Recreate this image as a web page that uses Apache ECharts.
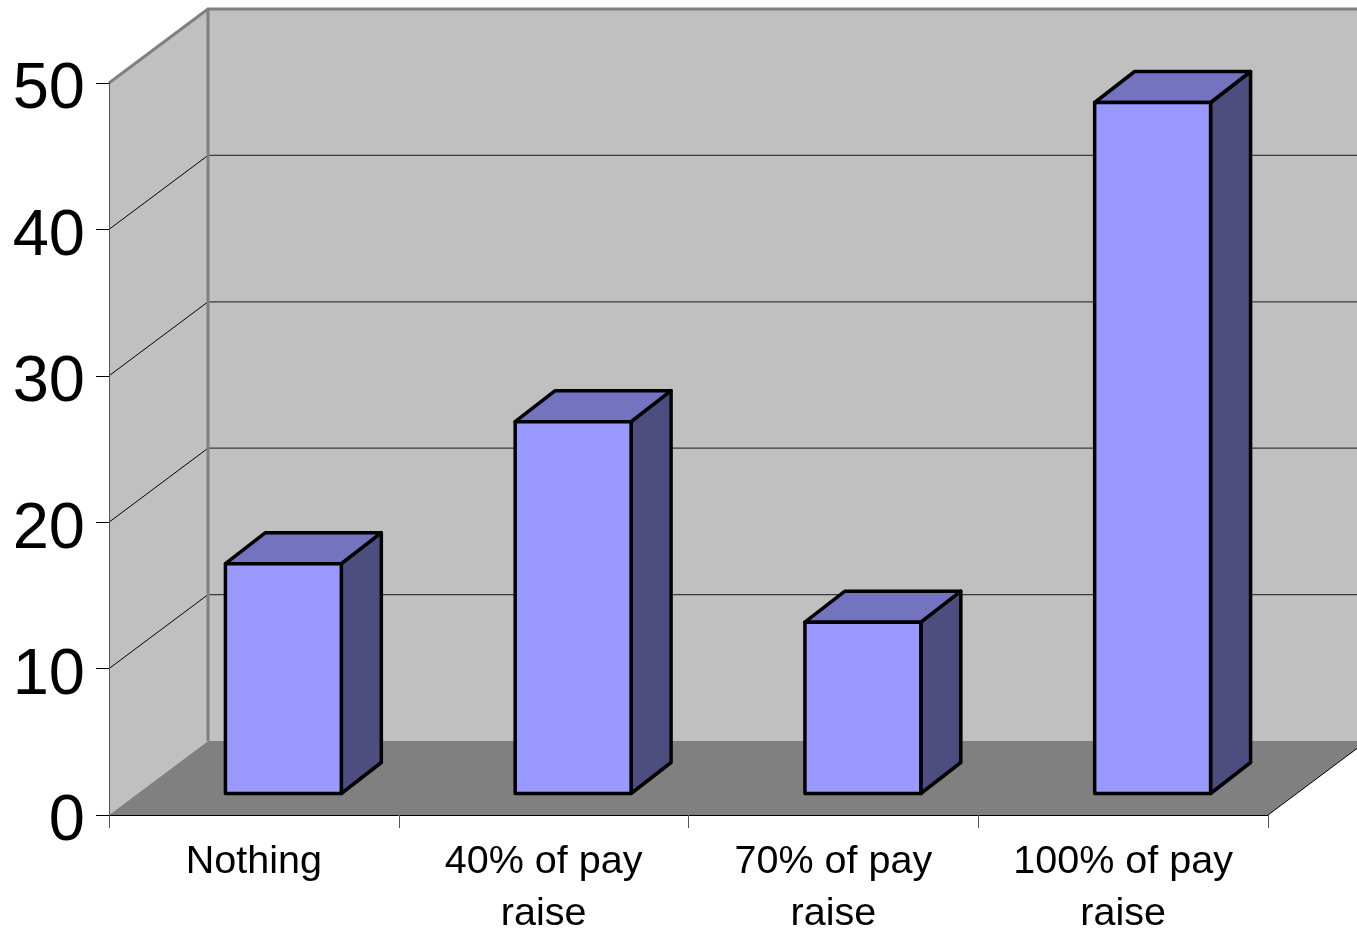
<!DOCTYPE html>
<html>
<head>
<meta charset="utf-8">
<style>html,body{margin:0;padding:0;background:#fff}#c{width:1357px;height:930px}</style>
<script src="https://cdn.jsdelivr.net/npm/echarts@6/dist/echarts.min.js"></script>
</head>
<body>
<div id="c"></div>
<script>
const categories = ['Nothing', '40% of pay\nraise', '70% of pay\nraise', '100% of pay\nraise'];
const values = [15.7, 25.4, 11.7, 47.2];
const yMin = 0;
const yMax = 50;
const yStep = 10;
const gridValues = [10, 20, 30, 40];

const DX = 99, DY = -74;        // wall depth in screen terms
const BDX = 40, BDY = -31;      // bar depth
const BW = 0.4;                 // bar width as a share of a band
const OX = (DX - BDX) / 2, OY = (DY - BDY) / 2;

const chart = echarts.init(document.getElementById('c'), null, {renderer: 'canvas'});

function poly(points, fill, stroke, lw) {
  return {type: 'polygon', shape: {points}, style: {fill, stroke: stroke || 'none', lineWidth: lw || 0, lineJoin: 'round'}};
}
function line(a, b, stroke, lw) {
  return {type: 'line', shape: {x1: a[0], y1: a[1], x2: b[0], y2: b[1]}, style: {stroke, lineWidth: lw}};
}

function renderWalls(params, api) {
  const c = params.coordSys;
  const L = c.x, R = c.x + c.width;
  const y0 = api.coord([0, yMin])[1], y1 = api.coord([0, yMax])[1];
  const kids = [
    poly([[L, y1], [L + DX, y1 + DY], [L + DX, y0 + DY], [L, y0]], '#c0c0c0'),
    poly([[L + DX, y1 + DY], [R + DX, y1 + DY], [R + DX, y0 + DY], [L + DX, y0 + DY]], '#c0c0c0'),
    poly([[L, y0], [L + DX, y0 + DY], [R + DX, y0 + DY], [R, y0]], '#808080')
  ];
  gridValues.forEach(v => {
    const y = api.coord([0, v])[1];
    kids.push(line([L, y], [L + DX, y + DY], '#000', 1));
    kids.push(line([L + DX, y + DY], [R + DX, y + DY], '#3a3a3a', 1.2));
  });
  kids.push(line([L, y1], [L + DX, y1 + DY], '#808080', 3));
  kids.push(line([L + DX - 1, y1 + DY], [R + DX, y1 + DY], '#808080', 3));
  kids.push(line([L + DX, y1 + DY], [L + DX, y0 + DY], '#808080', 3));
  kids.push(line([R, y0], [R + DX, y0 + DY], '#000', 1));
  return {type: 'group', children: kids};
}

function renderBar(params, api) {
  const i = api.value(0), v = api.value(1);
  const band = api.size([1, 0])[0];
  const w = band * BW;
  const top = api.coord([i, v]), base = api.coord([i, yMin]);
  const x0 = top[0] - w / 2 + OX, x1 = x0 + w;
  const yT = top[1] + OY, yB = base[1] + OY;
  const s = '#000', lw = 3.5;
  return {type: 'group', children: [
    poly([[x1, yT], [x1 + BDX, yT + BDY], [x1 + BDX, yB + BDY], [x1, yB]], '#4d4d80', s, lw),
    poly([[x0, yT], [x0 + BDX, yT + BDY], [x1 + BDX, yT + BDY], [x1, yT]], '#7373bf', s, lw),
    poly([[x0, yT], [x1, yT], [x1, yB], [x0, yB]], '#9999ff', s, lw)
  ]};
}

chart.setOption({
  animation: false,
  backgroundColor: '#fff',
  grid: {left: 109, right: 89, top: 83, bottom: 115, containLabel: false, outerBoundsMode: 'none'},
  xAxis: {
    type: 'category',
    data: categories,
    z: 5,
    axisLine: {show: true, lineStyle: {color: '#000', width: 1}},
    axisTick: {show: true, length: 13, alignWithLabel: false, lineStyle: {color: '#555', width: 1}},
    axisLabel: {show: true, interval: 0, hideOverlap: false, margin: 21, color: '#000', fontFamily: 'Liberation Sans', fontSize: 39.5, lineHeight: 52},
    splitLine: {show: false}
  },
  yAxis: {
    type: 'value',
    min: yMin,
    max: yMax,
    interval: yStep,
    z: 5,
    axisLine: {show: true, lineStyle: {color: '#555', width: 1}},
    axisTick: {show: true, length: 13, lineStyle: {color: '#000', width: 1}},
    axisLabel: {show: true, margin: 24, verticalAlign: 'top', lineHeight: 15, color: '#000', fontFamily: 'Liberation Sans', fontSize: 65, showMinLabel: true, showMaxLabel: true},
    splitLine: {show: false}
  },
  series: [
    {type: 'custom', z: 1, clip: false, silent: true, renderItem: renderWalls, encode: {x: 0, y: 1}, data: [[0, 0]]},
    {type: 'custom', z: 6, clip: false, renderItem: renderBar, encode: {x: 0, y: 1}, data: values.map((v, i) => [i, v])}
  ]
});
</script>
</body>
</html>
